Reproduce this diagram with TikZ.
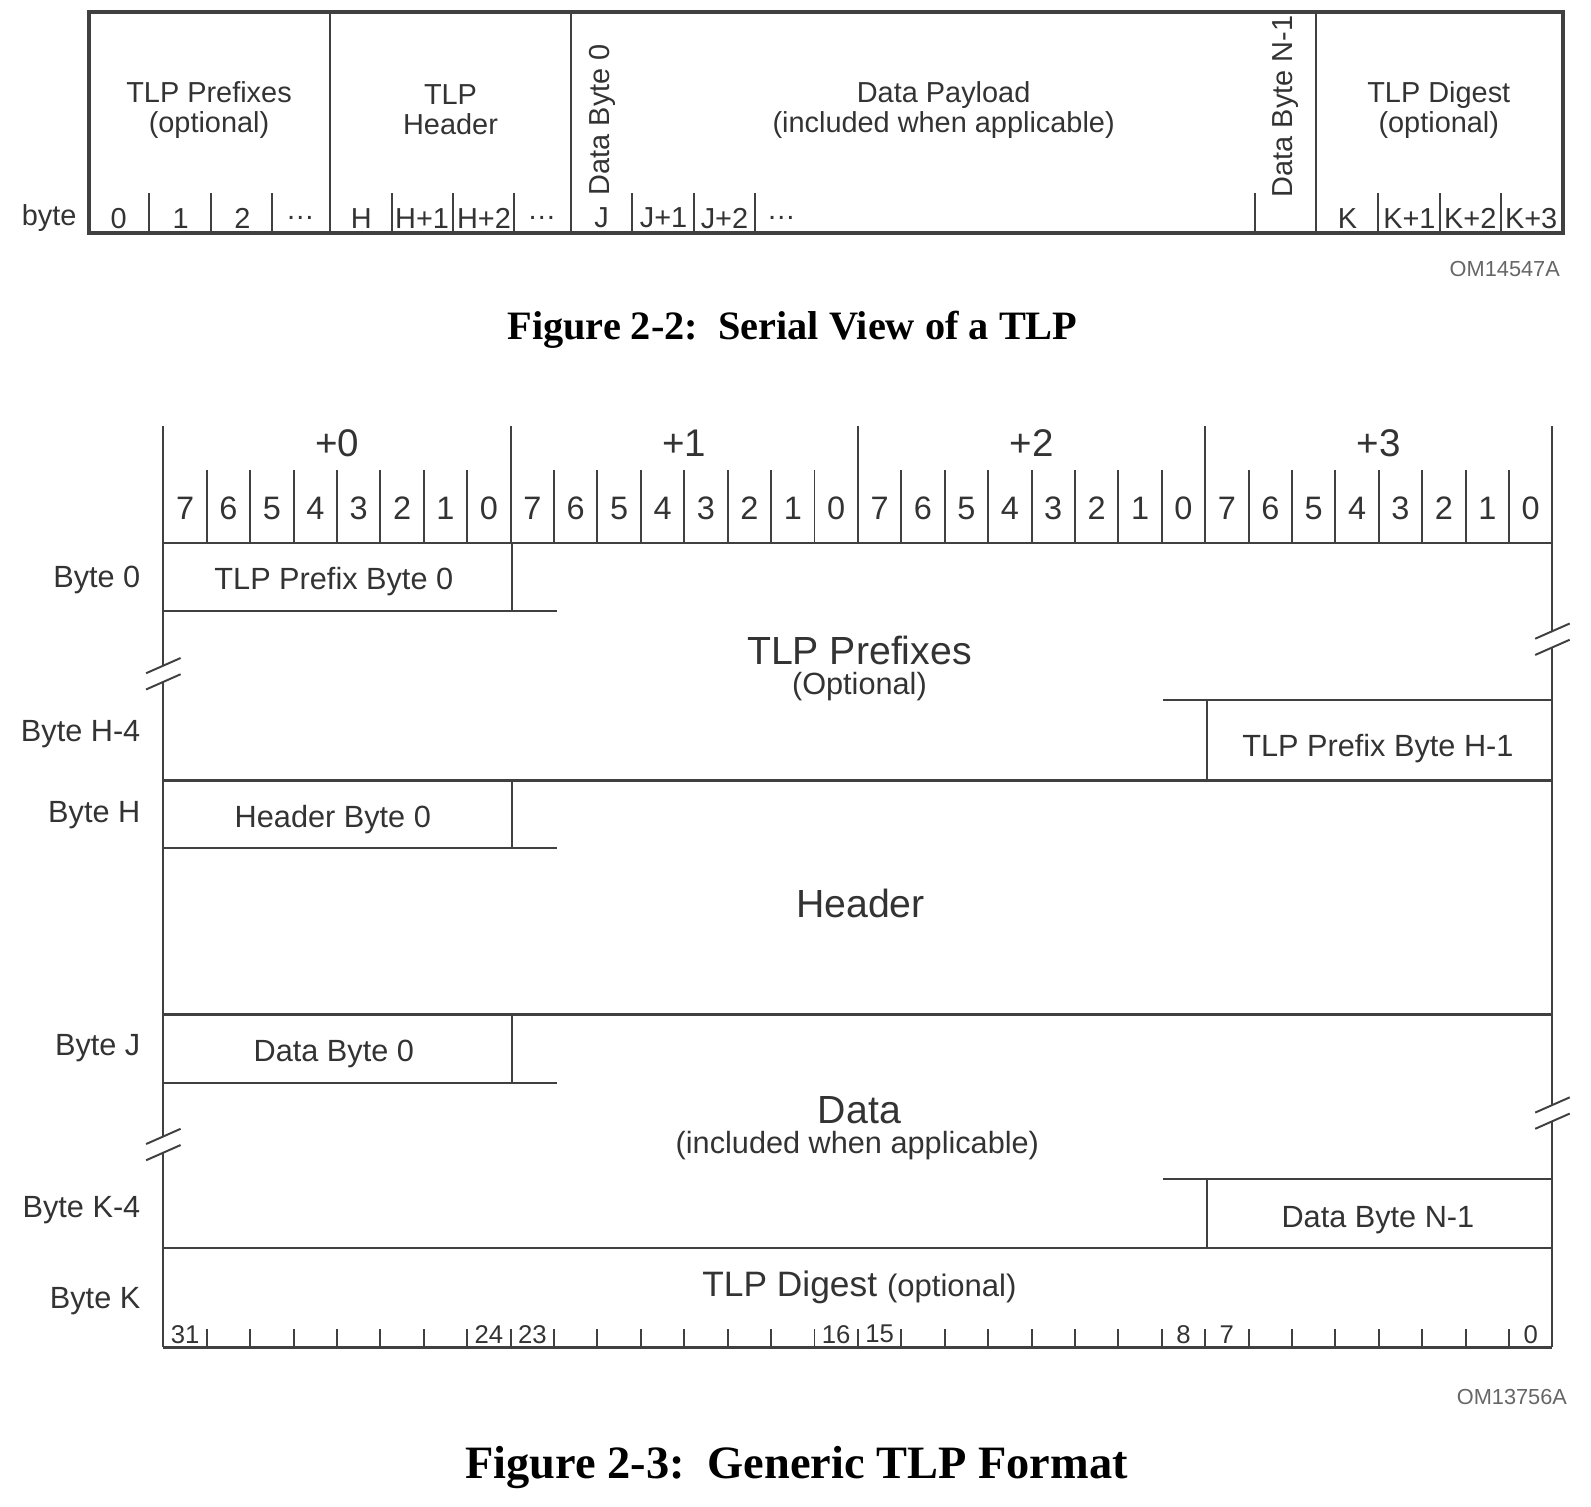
\documentclass[tikz,border=0pt]{standalone}
\usepackage{fontspec}
\setmainfont{Liberation Sans}
\newfontfamily\capfont{Liberation Serif}
\usetikzlibrary{positioning}

\definecolor{inkgray}{gray}{0.2}
\definecolor{rulegray}{gray}{0.25}
\definecolor{taggray}{gray}{0.4}

\tikzset{
  lbl/.style={inner sep=0pt, text=inkgray},
  serial/.style={lbl, font=\fontsize{8.1}{8.4}\selectfont, align=center},
  small/.style={lbl, font=\fontsize{8.6}{9}\selectfont},
  big/.style={lbl, font=\fontsize{11}{12}\selectfont},
  bitnum/.style={lbl, font=\fontsize{9.1}{10}\selectfont},
  offset/.style={lbl, font=\fontsize{10.8}{12}\selectfont},
  fieldnum/.style={lbl, font=\fontsize{7.2}{8}\selectfont},
  tag/.style={inner sep=0pt, text=taggray, font=\fontsize{6.1}{7}\selectfont},
  caption/.style={inner sep=0pt, font=\capfont\bfseries\fontsize{11.3}{13}\selectfont},
  outer/.style={draw=rulegray, line width=1.1pt},
  rule/.style={draw=rulegray, line width=0.55pt},
  rowline/.style={draw=rulegray, line width=0.7pt},
}

\begin{document}
\begin{tikzpicture}[x=0.01cm, y=-0.01cm, line cap=butt]
  \useasboundingbox (0,0) rectangle (1568,1485);

  %--------------------------
  % Figure 2-2: serial view
  %--------------------------
  \draw[outer] (88,12) rectangle (1540,230);
  \foreach \x in {325,563,1297}
    \draw[rule] (\x,12) -- (\x,230);
  \foreach \x in {147,208,268,386,446,507,623,684,744,1237,1358,1419,1479}
    \draw[rule] (\x,190) -- (\x,230);

  \node[serial] (prefixes) at (206,108) {TLP Prefixes\\(optional)};
  \node[serial] (header) at (444,108) {TLP\\Header};
  \node[serial] (payload) at (930,108) {Data Payload\\(included when applicable)};
  \node[serial] (digest) at (1418,108) {TLP Digest\\(optional)};
  \node[serial, rotate=90] (dbfirst) at (594,118) {Data Byte 0};
  \node[serial, rotate=90] (dblast) at (1267,105) {Data Byte N-1};

  \node[serial, anchor=east] (bytelbl) at (76,215) {byte};
  \foreach \x/\t in {117/0,178/1,239/2,296/\ldots,356/H,416/H+1,477/H+2,534/\ldots,
                     593/J,654/J+1,714/J+2,770/\ldots,1328/K,1389/K+1,1449/K+2,1509/K+3}
    \node[serial] (b\x) at (\x,215) {\t};

  \node[tag, anchor=east] (om1) at (1538,265) {OM14547A};
  \node[caption] (cap1) at (781,325) {Figure 2-2:\ \ Serial View of a TLP};

  %--------------------------
  % Figure 2-3: generic format
  %--------------------------
  % bit ruler
  \foreach \k in {1,...,31}{
    \pgfmathsetmacro{\bx}{161+\k*42.78125}
    \pgfmathtruncatemacro{\m}{mod(\k,8)}
    \ifnum\m=0
      \draw[rule] (\bx,420) -- (\bx,535);
    \else
      \draw[rule] (\bx,463) -- (\bx,535);
    \fi
  }
  \foreach \i in {0,...,31}{
    \pgfmathsetmacro{\bx}{161+(\i+0.5)*42.78125}
    \pgfmathtruncatemacro{\n}{7-mod(\i,8)}
    \node[bitnum] (bit\i) at (\bx,501) {\n};
  }
  \foreach \b in {0,...,3}
    \node[offset] (ofs\b) at ({161+(\b+0.5)*342.25},437) {+\b};

  % outer verticals with breaks
  \draw[rule] (161,420) -- (161,656) (161,672) -- (161,1120) (161,1136) -- (161,1328);
  \draw[rule] (1530,420) -- (1530,622) (1530,638) -- (1530,1089) (1530,1105) -- (1530,1328);
  \foreach \bx/\by in {161/664,1530/630,161/1128,1530/1097}{
    \draw[rule] (\bx-17,\by-0.5) -- (\bx+17,\by-15.5);
    \draw[rule] (\bx-17,\by+15.5) -- (\bx+17,\by+0.5);
  }

  % rows
  \draw[rule] (161,535) -- (1530,535);
  \foreach \y in {769,1000,1230,1328}
    \draw[rowline] (161,\y) -- (1530,\y);
  \foreach \y in {535,769,1000}{
    \draw[rule] (505,\y) -- (505,\y+67);
    \draw[rule] (161,\y+67) -- (549,\y+67);
  }
  \foreach \y/\z in {690/769,1162/1230}{
    \draw[rule] (1146,\y) -- (1530,\y);
    \draw[rule] (1190,\y) -- (1190,\z);
  }

  % bottom field ruler
  \foreach \k in {1,...,31}
    \draw[rule] ({161+\k*42.78125},1310) -- ({161+\k*42.78125},1328);
  \foreach \i/\t in {0/31,7/24,8/23,15/16,16/15,23/8,24/7,31/0}
    \node[fieldnum] (fld\t) at ({161+(\i+0.5)*42.78125},1315) {\t};

  % row labels
  \foreach \y/\t/\n in {572/0/r0,724/H-4/r1,803/H/r2,1033/J/r3,1193/K-4/r4,1282/K/r5}
    \node[small, anchor=east] (\n) at (139,\y) {Byte \t};

  % field texts
  \node[small] (pfx0) at (329,573) {TLP Prefix Byte 0};
  \node[big] (pfxtitle) at (847,641) {TLP Prefixes};
  \node[small] (pfxopt) at (847,677) {(Optional)};
  \node[small] (pfxlast) at (1358,738) {TLP Prefix Byte H-1};
  \node[small] (hdr0) at (328,808) {Header Byte 0};
  \node[big] (hdrtitle) at (848,890) {Header};
  \node[small] (dat0) at (329,1039) {Data Byte 0};
  \node[big] (dattitle) at (847,1094) {Data};
  \node[small] (datopt) at (845,1129) {(included when applicable)};
  \node[small] (datlast) at (1358,1202) {Data Byte N-1};
  \node[lbl] (dgst) at (847,1269)
    {{\fontsize{9.9}{11}\selectfont TLP Digest} {\fontsize{8.7}{10}\selectfont (optional)}};

  \node[tag, anchor=east] (om2) at (1545,1377) {OM13756A};
  \node[caption, font=\capfont\bfseries\fontsize{13}{15}\selectfont] (cap2) at (785,1446)
    {Figure 2-3:\ \ Generic TLP Format};

\end{tikzpicture}
\end{document}
